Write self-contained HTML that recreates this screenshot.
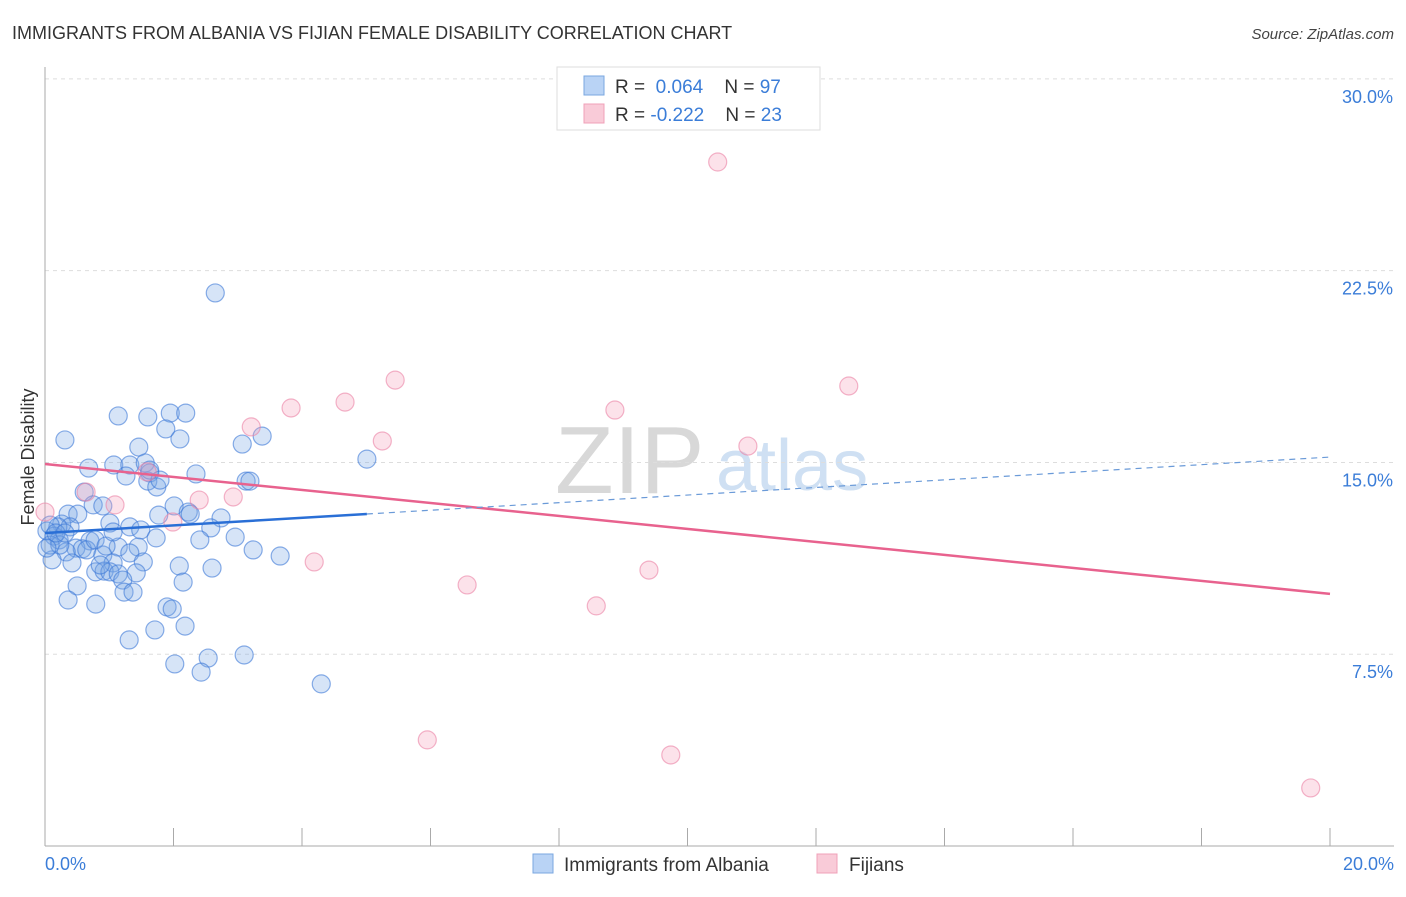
<!DOCTYPE html>
<html><head><meta charset="utf-8"><style>
body{margin:0;background:#fff;font-family:"Liberation Sans",sans-serif;}
svg text{font-family:"Liberation Sans",sans-serif;}
</style></head><body>
<svg id="chart" width="1406" height="892" xmlns="http://www.w3.org/2000/svg">
<text x="12" y="39" font-size="18" fill="#333">IMMIGRANTS FROM ALBANIA VS FIJIAN FEMALE DISABILITY CORRELATION CHART</text>
<text x="1394" y="39" font-size="15" fill="#444" text-anchor="end" font-style="italic">Source: ZipAtlas.com</text>
<g>
<text x="555" y="493" font-size="96" fill="#d8d8d8" font-family="Liberation Serif">ZIP</text>
<text x="716" y="490" font-size="72" fill="#cfe0f3">atlas</text>
</g>
<g id="grid"></g>
<g id="axes"></g>
<g id="marks"></g>
<text transform="translate(34,457) rotate(-90)" font-size="18" fill="#333" text-anchor="middle">Female Disability</text>
<g>
<rect x="557" y="67" width="263" height="63" fill="#fff" stroke="#ddd"/>
<rect x="584" y="76" width="20" height="19" fill="#b9d3f5" stroke="#7aa7e0"/>
<text x="615" y="93" font-size="19" fill="#333">R = <tspan fill="#3b7dd8">&#160;0.064</tspan>&#160;&#160;&#160;&#160;N = <tspan fill="#3b7dd8">97</tspan></text>
<rect x="584" y="104" width="20" height="19" fill="#f9cbd8" stroke="#f0a0b8"/>
<text x="615" y="121" font-size="19" fill="#333">R = <tspan fill="#3b7dd8">-0.222</tspan>&#160;&#160;&#160;&#160;N = <tspan fill="#3b7dd8">23</tspan></text>
</g>
<g>
<rect x="533" y="854" width="20" height="19" fill="#b9d3f5" stroke="#7aa7e0"/>
<text x="564" y="871" font-size="19" fill="#333">Immigrants from Albania</text>
<rect x="817" y="854" width="20" height="19" fill="#f9cbd8" stroke="#f0a0b8"/>
<text x="849" y="871" font-size="19" fill="#333">Fijians</text>
</g>
</svg>
<script>
const blueX=[2.65,0.31,1.14,1.6,1.95,2.19,1.88,1.46,2.1,3.07,3.38,5.01,1.07,1.32,1.56,1.63,0.68,2.35,3.13,3.19,1.6,1.74,0.61,1.26,0.75,0.9,2.01,2.23,2.26,1.77,0.36,0.51,1.01,1.32,2.74,0.26,0.39,0.2,2.58,2.96,1.49,1.73,0.03,0.14,0.22,0.7,1.14,1.45,3.24,3.66,0.48,0.58,0.65,0.33,0.9,1.32,0.11,0.42,1.06,1.53,2.09,2.6,0.79,0.92,1.01,1.14,1.42,2.15,1.21,0.5,1.23,1.37,0.36,0.79,1.9,1.98,2.18,1.71,1.31,3.1,2.54,2.02,2.43,4.3,0.86,0.08,0.23,0.78,0.95,1.06,2.41,0.03,0.08,0.17,0.31,1.63,1.79];
const blueY=[21.63,15.88,16.82,16.78,16.93,16.93,16.31,15.6,15.92,15.72,16.03,15.13,14.9,14.9,14.98,14.59,14.78,14.55,14.27,14.27,14.27,14.04,13.84,14.47,13.34,13.3,13.3,13.06,12.98,12.94,12.98,12.98,12.63,12.48,12.83,12.59,12.48,12.48,12.44,12.08,12.36,12.05,12.32,12.12,11.97,11.93,11.69,11.69,11.58,11.34,11.65,11.62,11.58,11.5,11.38,11.46,11.19,11.07,11.07,11.11,10.95,10.87,10.72,10.75,10.72,10.64,10.68,10.32,10.4,10.17,9.93,9.93,9.62,9.46,9.35,9.27,8.6,8.45,8.06,7.47,7.35,7.12,6.8,6.34,10.99,11.77,11.77,11.97,11.73,12.28,11.97,11.65,12.55,12.24,12.24,14.7,14.31];
const pinkX=[10.47,5.45,12.51,3.83,4.67,8.87,3.21,5.25,10.94,1.59,0.64,1.09,2.4,2.93,1.99,0.0,4.19,6.57,9.4,8.58,5.95,9.74,19.7];
const pinkY=[26.75,18.22,17.99,17.13,17.36,17.05,16.39,15.84,15.64,14.63,13.84,13.34,13.53,13.65,12.67,13.06,11.11,10.21,10.79,9.39,4.15,3.56,2.27];
const yTicks=[7.5,15,22.5,30];
const yTickLabels=["7.5%","15.0%","22.5%","30.0%"];
const xTicks=[0,2,4,6,8,10,12,14,16,18,20];
const blueTrend=[12.24,15.21]; // at x=0 and x=20
const blueSolidEnd=5.01;
const pinkTrend=[14.94,9.86];

const X=v=>45+v*64.25;
const Y=v=>846-v*25.57;
const NS="http://www.w3.org/2000/svg";
function mk(tag,attrs,parent){const e=document.createElementNS(NS,tag);for(const k in attrs)e.setAttribute(k,attrs[k]);parent.appendChild(e);return e;}
const grid=document.getElementById('grid'),axes=document.getElementById('axes'),marks=document.getElementById('marks');
yTicks.forEach((t,i)=>{
  const l=mk('line',{x1:45,x2:1394,y1:Y(t),y2:Y(t),stroke:'#ddd','stroke-dasharray':'4,4'},grid);
  
  
  const tx=mk('text',{x:1393,y:Y(t)+24,'font-size':18,fill:'#3b7dd8','text-anchor':'end'},axes);
  tx.textContent=yTickLabels[i];
  
  
});
const ya=mk('line',{x1:45,x2:45,y1:67,y2:846,stroke:'#aaa'},axes);


const xa=mk('line',{x1:45,x2:1394,y1:846,y2:846,stroke:'#aaa'},axes);


xTicks.forEach(t=>{
  const l=mk('line',{x1:X(t),x2:X(t),y1:828,y2:846,stroke:'#aaa'},axes);
  
  
});
const xl0=mk('text',{x:45,y:870,'font-size':18,fill:'#3b7dd8'},axes);xl0.textContent="0.0%";


const xl1=mk('text',{x:1394,y:870,'font-size':18,fill:'#3b7dd8','text-anchor':'end'},axes);xl1.textContent="20.0%";



blueX.forEach((x,i)=>{
  const c=mk('circle',{cx:X(x),cy:Y(blueY[i]),r:9,fill:'rgba(120,165,230,0.3)',stroke:'rgba(60,120,215,0.6)','stroke-width':1.2},marks);
  
  
});
pinkX.forEach((x,i)=>{
  const c=mk('circle',{cx:X(x),cy:Y(pinkY[i]),r:9,fill:'rgba(245,160,185,0.3)',stroke:'rgba(235,130,165,0.6)','stroke-width':1.2},marks);
  
  
});
const bAt=x=>blueTrend[0]+(blueTrend[1]-blueTrend[0])*x/20;
const pAt=x=>pinkTrend[0]+(pinkTrend[1]-pinkTrend[0])*x/20;
const pl=mk('line',{x1:X(0),y1:Y(pAt(0)),x2:X(20),y2:Y(pAt(20)),stroke:'#e8628e','stroke-width':2.5},marks);


const bl=mk('line',{x1:X(0),y1:Y(bAt(0)),x2:X(blueSolidEnd),y2:Y(bAt(blueSolidEnd)),stroke:'#2a6fd6','stroke-width':2.5},marks);


const bd=mk('line',{x1:X(blueSolidEnd),y1:Y(bAt(blueSolidEnd)),x2:X(20),y2:Y(bAt(20)),stroke:'#6a9ad8','stroke-width':1.2,'stroke-dasharray':'6,5'},marks);


</script>
</body></html>
